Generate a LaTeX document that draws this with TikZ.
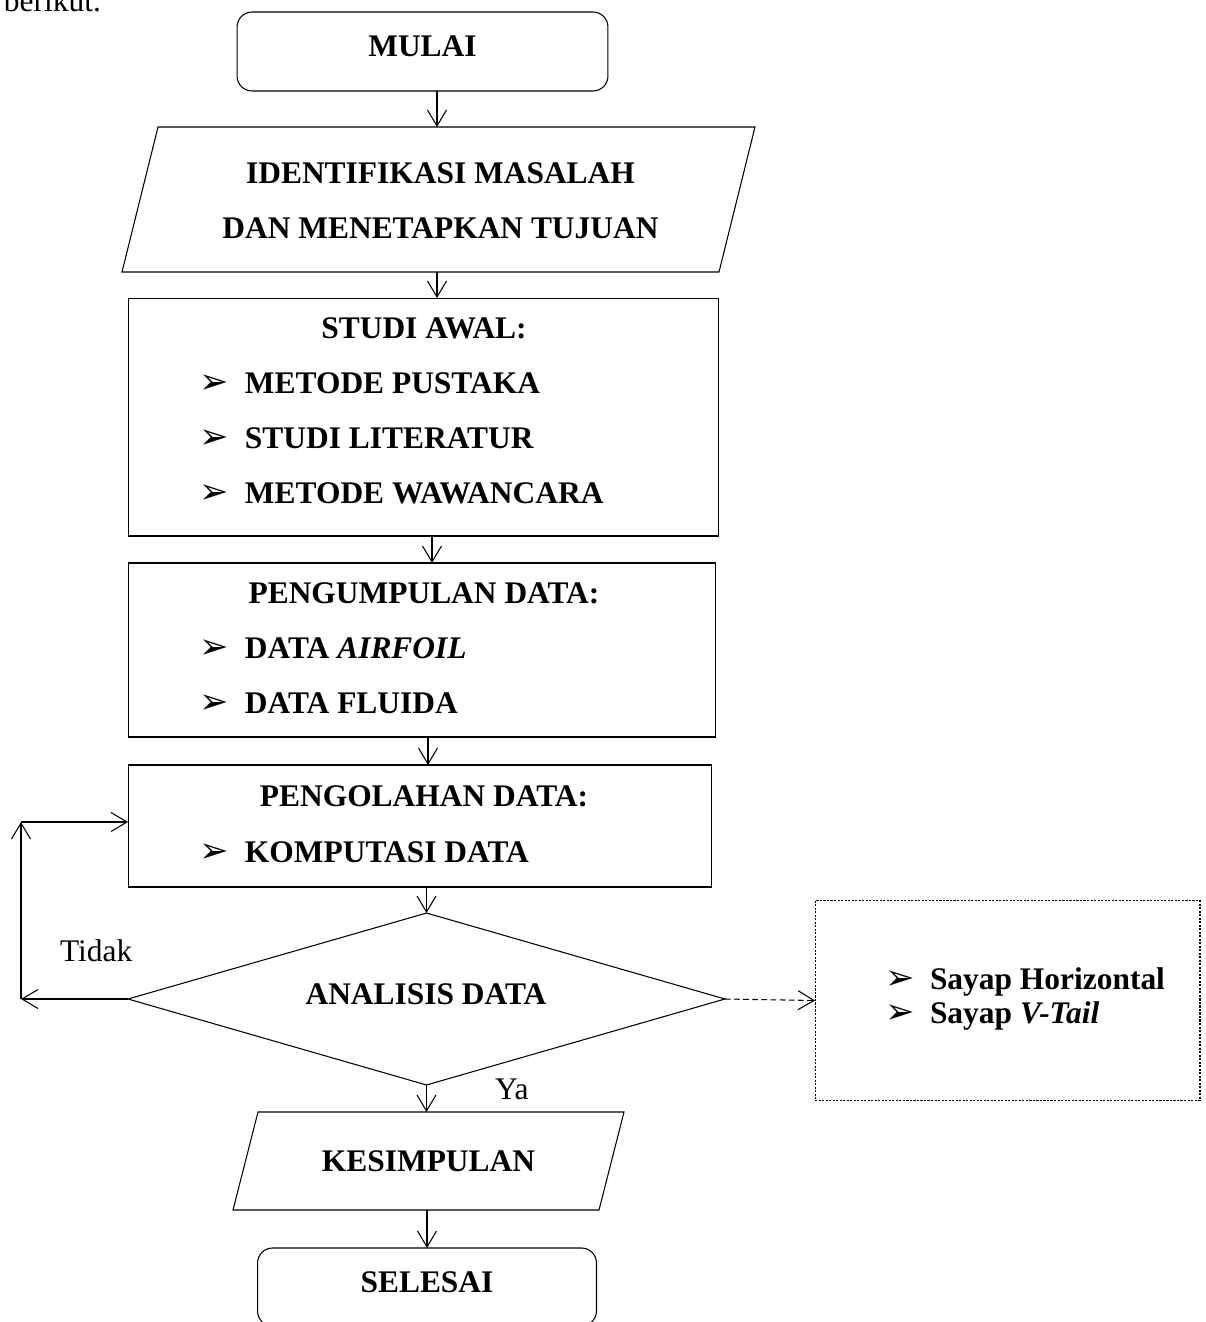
\documentclass[tikz,border=0pt]{standalone}
\usepackage{fontspec}
\setmainfont{Liberation Serif}
\newfontfamily\dejavu{DejaVu Sans}
\usetikzlibrary{arrows.meta,shapes.geometric}
\newcommand{\fsz}{\fontsize{17.9}{21}\selectfont}
\newcommand{\bul}{{\dejavu\fontsize{20}{20}\selectfont ➢}}
\begin{document}
\begin{tikzpicture}[x=0.02cm,y=-0.02cm,
  line width=0.6pt,
  every node/.style={font=\fsz, inner sep=0pt, outer sep=0pt},
  arr/.style={-{Straight Barb[length=0.32cm,width=0.38cm]}},
  term/.style={draw, rounded corners=0.3cm},
  procbox/.style={draw},
  ghost/.style={draw=none},
  ttl/.style={font=\fsz\bfseries, anchor=base},
  item/.style={font=\fsz\bfseries, anchor=base west},
  plain/.style={font=\fsz, anchor=base west},
  sidebox/.style={draw, dash pattern=on 1.2pt off 0.8pt},
  dasharr/.style={arr, dash pattern=on 3.2pt off 2pt}]
\useasboundingbox (0,0) rectangle (1206,1322);

% intro text (cut at top)
\node[plain] (berikut) at (4,11) {berikut.};

% MULAI
\node[term, minimum width=7.42cm, minimum height=1.58cm] (mulai) at (422.5,51.5) {};
\node[ttl] (tmulai) at (422.5,56) {MULAI};

% IDENTIFIKASI (parallelogram)
\node[ghost, minimum width=11.94cm, minimum height=2.9cm] (ident) at (438.5,199.5) {};
\draw (158,127) -- (755,127) -- (719,272) -- (122,272) -- cycle;
\node[ttl] (tid1) at (440.5,183) {IDENTIFIKASI MASALAH};
\node[ttl] (tid2) at (440.5,238) {DAN MENETAPKAN TUJUAN};

% STUDI AWAL
\node[procbox, minimum width=11.82cm, minimum height=4.76cm] (studi) at (423.5,417) {};
\node[ttl] (tst) at (424,338) {STUDI AWAL:};
\node[item] (s1) at (199,393) {\makebox[0.92cm][l]{\bul}METODE PUSTAKA};
\node[item] (s2) at (199,448) {\makebox[0.92cm][l]{\bul}STUDI LITERATUR};
\node[item] (s3) at (199,503) {\makebox[0.92cm][l]{\bul}METODE WAWANCARA};

% PENGUMPULAN DATA
\node[procbox, minimum width=11.76cm, minimum height=3.48cm] (peng) at (422,650) {};
\node[ttl] (tpg) at (424,603) {PENGUMPULAN DATA:};
\node[item] (p1) at (199,658) {\makebox[0.92cm][l]{\bul}DATA \textit{AIRFOIL}};
\node[item] (p2) at (199,713) {\makebox[0.92cm][l]{\bul}DATA FLUIDA};

% PENGOLAHAN DATA
\node[procbox, minimum width=11.68cm, minimum height=2.44cm] (olah) at (420,826) {};
\node[ttl] (tol) at (424,806) {PENGOLAHAN DATA:};
\node[item] (o1) at (199,862) {\makebox[0.92cm][l]{\bul}KOMPUTASI DATA};

% ANALISIS DATA (decision)
\node[draw, diamond, shape aspect=3.4, minimum width=11.94cm, minimum height=3.44cm] (ana) at (426.5,999) {};
\node[ttl] (tana) at (426,1004) {ANALISIS DATA};

% side dashed box
\node[sidebox, minimum width=7.7cm, minimum height=4cm] (side) at (1007.5,1000.5) {};
\node[item] (sd1) at (885,989) {\makebox[0.9cm][l]{\bul}Sayap Horizontal};
\node[item] (sd2) at (885,1023) {\makebox[0.9cm][l]{\bul}Sayap \textit{V-Tail}};

% KESIMPULAN (parallelogram)
\node[ghost, minimum width=7.82cm, minimum height=1.96cm] (kes) at (428.5,1161) {};
\draw (258,1112) -- (624,1112) -- (599,1210) -- (233,1210) -- cycle;
\node[ttl] (tkes) at (428.5,1171) {KESIMPULAN};

% SELESAI
\node[term, minimum width=6.78cm, minimum height=1.56cm] (selesai) at (427,1287) {};
\node[ttl] (tsel) at (427,1292) {SELESAI};

% labels
\node[plain] (tidak) at (60,961) {Tidak};
\node[plain] (ya) at (495,1099) {Ya};

% connectors
\coordinate (c437) at (437,0);
\coordinate (c432) at (432,0);
\coordinate (c428) at (428,0);
\coordinate (c427) at (427,0);
\coordinate (l1) at (21,999);
\coordinate (l2) at (21,822);

\draw[arr] (mulai.south -| c437) -- (ident.north -| c437);
\draw[arr] (ident.south -| c437) -- (studi.north -| c437);
\draw[arr] (studi.south -| c432) -- (peng.north -| c432);
\draw[arr] (peng.south -| c428) -- (olah.north -| c428);
\draw[arr] (olah.south -| ana.north) -- (ana.north);
\draw[arr] (ana.south) -- (ana.south |- kes.north);
\draw[arr] (kes.south -| c427) -- (selesai.north -| c427);
\draw[dasharr] (ana.east) -- (side.west);
\draw[arr] (ana.west) -- (l1);
\draw[arr] (l1) -- (l2);
\draw[arr] (l2) -- (olah.west |- l2);
\end{tikzpicture}
\end{document}
